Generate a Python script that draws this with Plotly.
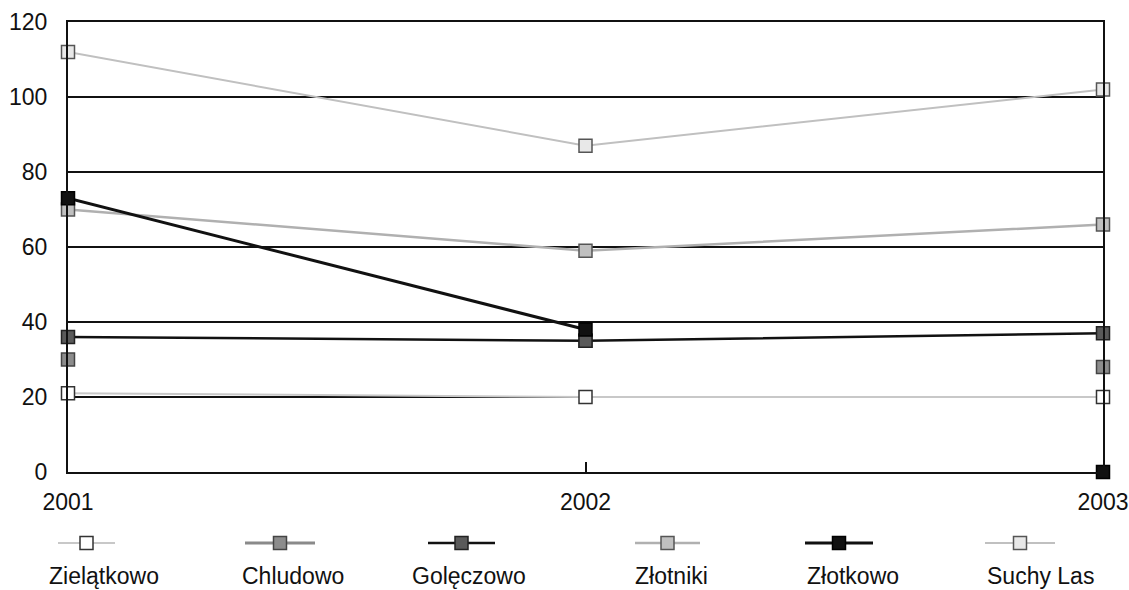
import plotly.graph_objects as go

years = ["2001", "2002", "2003"]
series_names = ["Zielątkowo", "Chludowo", "Golęczowo", "Złotniki", "Złotkowo", "Suchy Las"]
zielatkowo = [21, 20, 20]
chludowo = [30, 35, 28]
goleczowo = [36, 35, 37]
zlotniki = [70, 59, 66]
zlotkowo = [73, 38, 0]
suchy_las = [112, 87, 102]
y_ticks = [0, 20, 40, 60, 80, 100, 120]

values = [zielatkowo, chludowo, goleczowo, zlotniki, zlotkowo, suchy_las]
# segments visible in the scanned original (True = joined to previous point)
joined = [
    [True, True],
    [False, False],
    [True, True],
    [True, True],
    [True, False],
    [True, True],
]
styles = [
    dict(line="#c8c8c8", lw=2, fill="#ffffff", edge="#333333"),
    dict(line="#8a8a8a", lw=3, fill="#8c8c8c", edge="#444444"),
    dict(line="#111111", lw=2.5, fill="#5a5a5a", edge="#222222"),
    dict(line="#b0b0b0", lw=2.5, fill="#c0c0c0", edge="#555555"),
    dict(line="#111111", lw=3, fill="#111111", edge="#000000"),
    dict(line="#c0c0c0", lw=2, fill="#e8e8e8", edge="#555555"),
]

W, H = 1129, 590
L, R, T, B = 68, 26, 22, 118
PW = W - L - R
PH = H - T - B

fig = go.Figure()
for name, vals, jn, st in zip(series_names, values, joined, styles):
    xs, ys = [years[0]], [vals[0]]
    for i in range(1, len(vals)):
        if not jn[i - 1]:
            xs.append(None)
            ys.append(None)
        xs.append(years[i])
        ys.append(vals[i])
    fig.add_trace(go.Scatter(
        x=xs, y=ys, name=name, mode="lines+markers", connectgaps=False,
        line=dict(color=st["line"], width=st["lw"]),
        marker=dict(symbol="square", size=13, color=st["fill"],
                    line=dict(color=st["edge"], width=1.5)),
        cliponaxis=False, showlegend=False,
    ))

# manual legend: sample line + marker above the name
legend_line_x = [(58, 115), (245, 315), (428, 495), (635, 700), (805, 873), (985, 1055)]
legend_text_x = [47, 240, 410, 633, 805, 985]
sym_y = 543
txt_y = 576


def px(x):
    return (x - L) / PW


def py(y):
    return (H - B - y) / PH


shapes = []
annotations = []
for name, st, (x0, x1), tx in zip(series_names, styles, legend_line_x, legend_text_x):
    shapes.append(dict(type="line", xref="paper", yref="paper",
                       x0=px(x0), x1=px(x1), y0=py(sym_y), y1=py(sym_y),
                       line=dict(color=st["line"], width=st["lw"])))
    xm = (x0 + x1) / 2
    shapes.append(dict(type="rect", xref="paper", yref="paper",
                       x0=px(xm - 6.5), x1=px(xm + 6.5), y0=py(sym_y + 6.5), y1=py(sym_y - 6.5),
                       fillcolor=st["fill"], line=dict(color=st["edge"], width=1.5)))
    annotations.append(dict(text=name, xref="paper", yref="paper", x=px(tx), y=py(txt_y),
                            xanchor="left", yanchor="middle", showarrow=False,
                            font=dict(size=23, color="#111111")))

fig.update_layout(
    width=W, height=H,
    margin=dict(l=L, r=R, t=T, b=B, autoexpand=False),
    paper_bgcolor="white", plot_bgcolor="white",
    font=dict(family="Liberation Sans, Arial, sans-serif", size=23, color="#111111"),
    showlegend=False,
    shapes=shapes,
    annotations=annotations,
    xaxis=dict(type="category", range=[0, 2], showgrid=False, showline=True,
               linecolor="#111111", linewidth=2, mirror=True, automargin=False,
               ticks="inside", ticklen=10, tickcolor="#111111", tickwidth=1.5,
               ticklabelstandoff=8, tickfont=dict(size=23), zeroline=False),
    yaxis=dict(range=[0, 120], tickvals=y_ticks, showgrid=True, gridcolor="#111111",
               gridwidth=2, showline=True, linecolor="#111111", linewidth=2, mirror=True,
               automargin=False, ticks="", ticklabelstandoff=14, tickfont=dict(size=23),
               zeroline=False),
)
fig.write_html(
    "out.html",
    config={"displayModeBar": False},
    post_script="document.body.style.margin='0';document.body.style.overflow='hidden';"
                "document.documentElement.style.overflow='hidden';",
)
